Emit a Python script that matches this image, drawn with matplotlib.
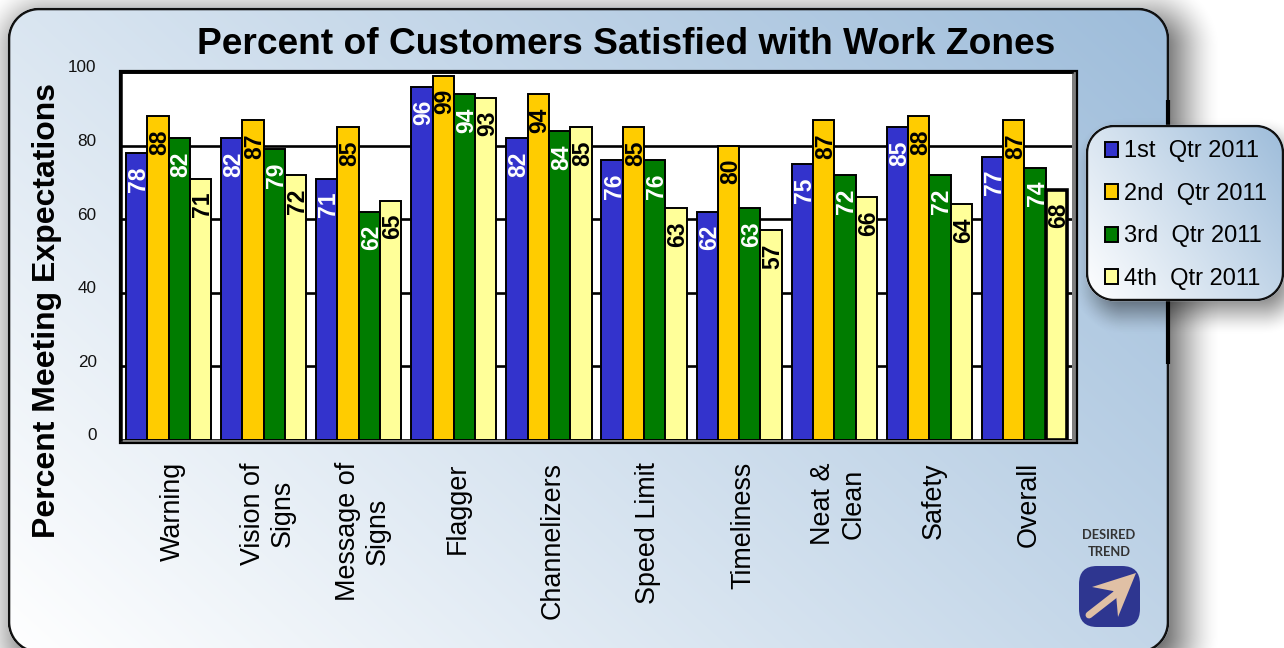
import numpy as np
import matplotlib
matplotlib.use('Agg')
import matplotlib.pyplot as plt
from matplotlib.patches import FancyBboxPatch, Polygon, Rectangle
from matplotlib.colors import to_rgb
from matplotlib.transforms import ScaledTranslation

plt.rcParams['font.family'] = ['Liberation Sans', 'DejaVu Sans']

categories = ['Warning', 'Vision of\nSigns', 'Message of\nSigns', 'Flagger', 'Channelizers',
              'Speed Limit', 'Timeliness', 'Neat &\nClean', 'Safety', 'Overall']
q1 = [78, 82, 71, 96, 82, 76, 62, 75, 85, 77]
q2 = [88, 87, 85, 99, 94, 85, 80, 87, 88, 87]
q3 = [82, 79, 62, 94, 84, 76, 63, 72, 72, 74]
q4 = [71, 72, 65, 93, 85, 63, 57, 66, 64, 68]
series = [q1, q2, q3, q4]
series_names = ['1st  Qtr 2011', '2nd  Qtr 2011', '3rd  Qtr 2011', '4th  Qtr 2011']
bar_colors = ['#3333cc', '#ffcc00', '#007c00', '#ffff99']
text_colors = ['white', 'black', 'white', 'black']
y_ticks = [0, 20, 40, 60, 80, 100]

W, H = 1284, 648
fig = plt.figure(figsize=(W / 100, H / 100), dpi=100, facecolor='white')

# background layer, works in pixels with y going down
bg = fig.add_axes([0, 0, 1, 1], zorder=0)
bg.set_xlim(0, W)
bg.set_ylim(H, 0)
bg.axis('off')

xx, yy = np.meshgrid(np.arange(W) + 0.5, np.arange(H) + 0.5)
light = np.array(to_rgb('#ffffff'))
dark = np.array(to_rgb('#9dbcda'))
edge = np.array(to_rgb('#111111'))


def rounded_dist(x0, y0, x1, y1, r):
    # distance to a rounded box, negative inside
    cx, cy = (x0 + x1) / 2, (y0 + y1) / 2
    qx = np.abs(xx - cx) - (x1 - x0) / 2 + r
    qy = np.abs(yy - cy) - (y1 - y0) / 2 + r
    return np.hypot(np.maximum(qx, 0), np.maximum(qy, 0)) + np.minimum(np.maximum(qx, qy), 0) - r


def draw_shadow(x0, y0, x1, y1, r, blur, strength, z):
    d = rounded_dist(x0, y0, x1, y1, r)
    s = np.clip((blur - d) / (2 * blur), 0, 1)
    rgba = np.zeros((H, W, 4))
    rgba[..., 3] = strength * s * s * (3 - 2 * s)
    bg.imshow(rgba, extent=(0, W, H, 0), zorder=z, aspect='auto')


def draw_box(x0, y0, x1, y1, r, z, lw=2.6):
    # box with a diagonal gradient, white at lower left, and a dark outline
    d = rounded_dist(x0, y0, x1, y1, r)
    t = np.clip(0.62 * (xx - x0) / (x1 - x0) + 0.38 * (y1 - yy) / (y1 - y0), 0, 1)
    rgb = light + (dark - light) * t[..., None]
    line = np.clip(lw / 2 + 0.5 - np.abs(d), 0, 1)[..., None]
    rgb = rgb * (1 - line) + edge * line
    rgba = np.dstack([rgb, np.clip(lw / 2 + 0.5 - d, 0, 1)])
    bg.imshow(rgba, extent=(0, W, H, 0), zorder=z, aspect='auto')


draw_shadow(16, 18, 1180, 664, 30, 42, 0.72, 1)
draw_box(9, 9, 1168, 652, 30, 2)
# the edge of the panel is heavier around the legend
bg.plot([1168, 1168], [100, 364], color='black', lw=3, solid_capstyle='butt', zorder=3)
draw_shadow(1096, 140, 1290, 312, 27, 24, 0.5, 3.5)
draw_box(1087, 126, 1283, 300, 27, 4, lw=2.4)

# 3d look frame behind the plot
bg.add_patch(Rectangle((120, 71), 957, 372, facecolor='#7f7f7f', edgecolor='black', linewidth=1.6, zorder=5))

# desired trend badge
bg.text(1109, 535, 'DESIRED', family='Lato', weight='bold', fontsize=9.3, color='#333333',
        ha='center', va='center', zorder=6)
bg.text(1109, 552, 'TREND', family='Lato', weight='bold', fontsize=9.3, color='#333333',
        ha='center', va='center', zorder=6)
bg.add_patch(FancyBboxPatch((1079, 566), 61, 61, boxstyle='round,pad=0,rounding_size=18',
                            facecolor='#2e3690', edgecolor='none', zorder=6))
bg.plot([1089, 1116], [615, 594], color='#e0c0a5', lw=5, solid_capstyle='round', zorder=7)
bg.add_patch(Polygon([(1136, 573), (1092, 587), (1113, 591), (1116, 594), (1118, 617)],
                     closed=True, facecolor='#e0c0a5', edgecolor='none', zorder=7))

# main chart
left, right, top, bottom = 121, 1072, 72, 440
ax = fig.add_axes([left / W, 1 - bottom / H, (right - left) / W, (bottom - top) / H], zorder=2)
ax.set_facecolor('white')
x = np.arange(len(categories))
bar_w = 0.224
handles = []
for i, vals in enumerate(series):
    pos = x + (i - 1.5) * bar_w
    bars = ax.bar(pos, vals, bar_w, color=bar_colors[i], edgecolor='black', linewidth=1.4, zorder=3,
                  label=series_names[i])
    handles.append(bars)
    for px, v in zip(pos, vals):
        ax.annotate(str(v), (px, v), xytext=(1.4, -9.5), textcoords='offset points', rotation=90,
                    ha='center', va='top', fontsize=16.5, fontweight='bold', color=text_colors[i], zorder=4)
handles[3][-1].set_linewidth(2.6)

ax.set_xlim(-0.5, 9.5)
ax.set_ylim(0, 100)
ax.set_yticks(y_ticks)
ax.set_xticks(x)
ax.set_xticklabels(categories, rotation=90, fontsize=19.4, ha='center', va='top', multialignment='center')
ax.tick_params(axis='x', length=0, pad=16)
ax.tick_params(axis='y', length=0, pad=17.5, labelsize=12.3, labelcolor='#111111')
for lab in ax.get_xticklabels():
    lab.set_transform(lab.get_transform() + ScaledTranslation(4 / 100, 0, fig.dpi_scale_trans))
for lab in ax.get_yticklabels():
    lab.set_transform(lab.get_transform() + ScaledTranslation(0, 5.5 / 100, fig.dpi_scale_trans))
ax.grid(axis='y', color='black', linewidth=1.9, zorder=1)
ax.set_axisbelow(True)
for name in ['top', 'left']:
    ax.spines[name].set_linewidth(1.8)
ax.spines['right'].set_visible(False)
ax.spines['bottom'].set_visible(False)

fig.text(626 / W, 1 - 45 / H, 'Percent of Customers Satisfied with Work Zones', fontsize=26.75,
         fontweight='bold', ha='center', va='center')
fig.text(47.5 / W, 1 - 310 / H, 'Percent Meeting Expectations', fontsize=23, fontweight='bold',
         rotation=90, ha='center', va='center')

leg = fig.legend(handles=handles, labels=series_names, loc='upper left', bbox_to_anchor=(1105 / W, 1 - 140.5 / H),
                 frameon=False, fontsize=17, handlelength=0.55, handleheight=0.6, handletextpad=0.25,
                 labelspacing=0.865, borderaxespad=0, borderpad=0)
for h in leg.legend_handles:
    h.set_linewidth(1.4)

fig.savefig('out.png', dpi=100)
